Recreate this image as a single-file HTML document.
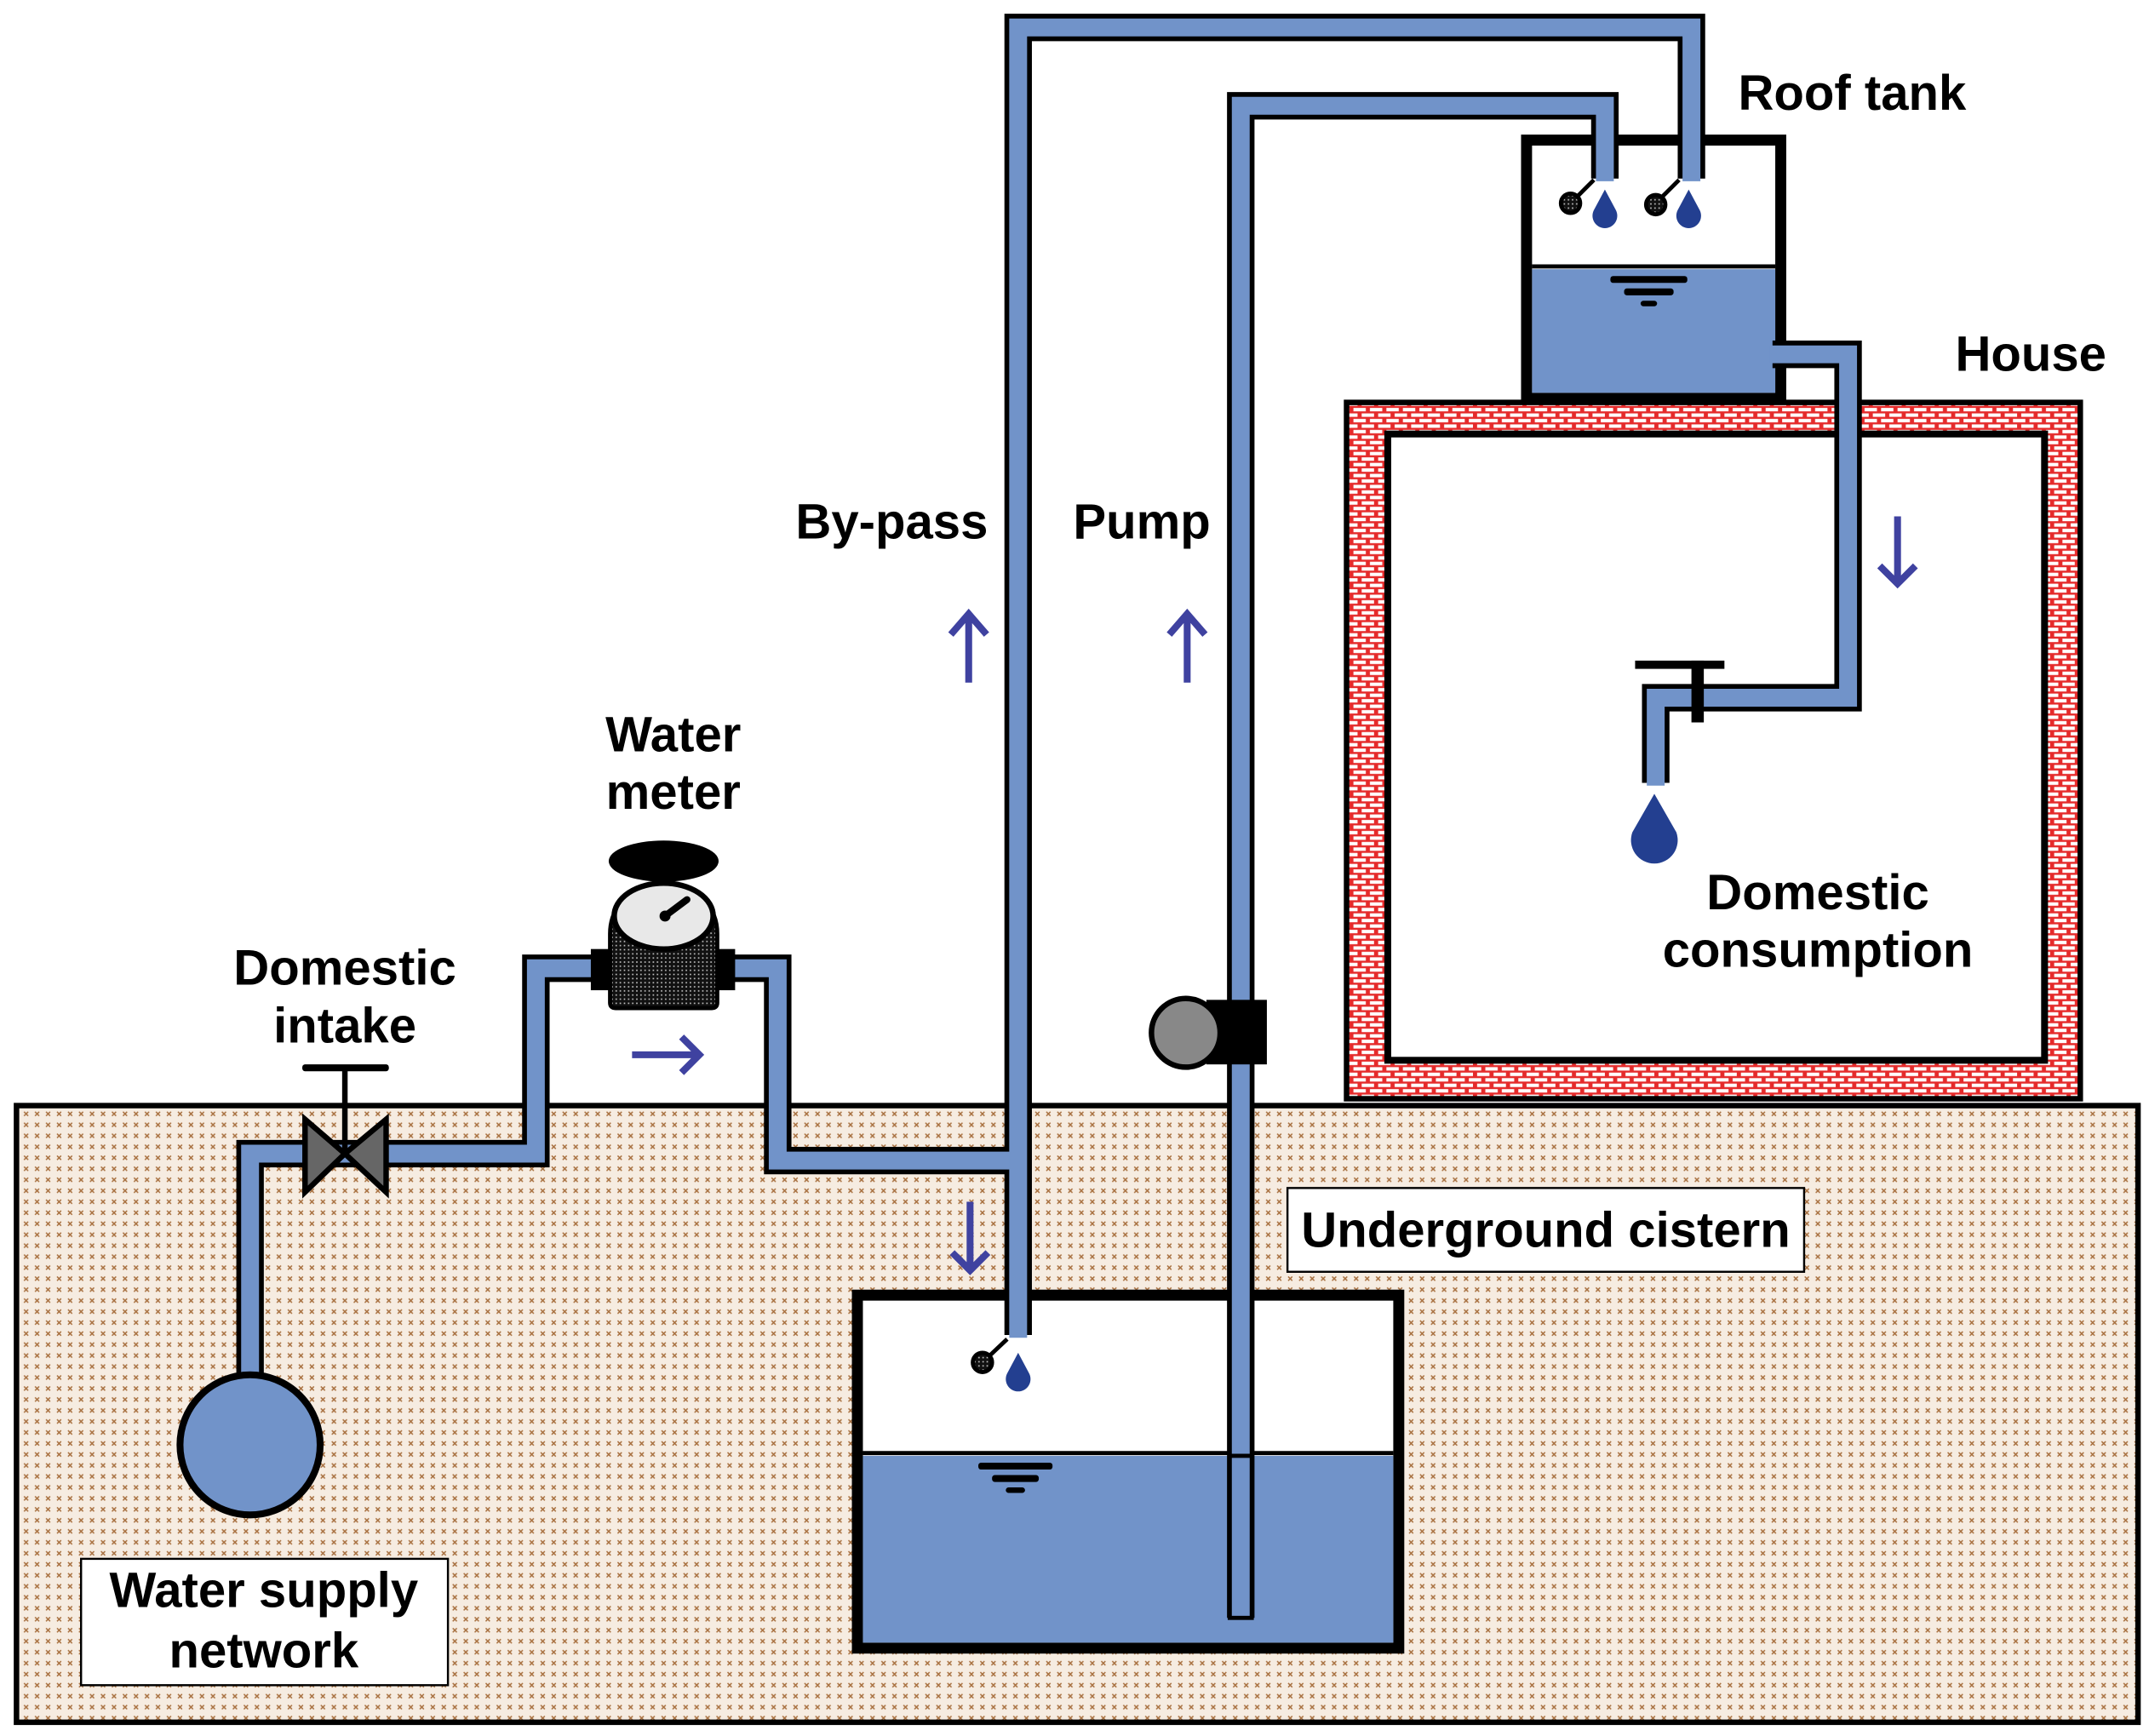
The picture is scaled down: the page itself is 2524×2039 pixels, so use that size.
<!DOCTYPE html>
<html><head><meta charset="utf-8"><style>
html,body{margin:0;padding:0;background:#fff}
svg{display:block}
text{font-family:"Liberation Sans",Arial,sans-serif;font-weight:bold;font-size:36px;fill:#000}
</style></head><body>
<svg width="2524" height="2039" viewBox="0 0 1564 1264" preserveAspectRatio="none" xmlns="http://www.w3.org/2000/svg">
<defs>
<pattern id="soil" width="8" height="8" patternUnits="userSpaceOnUse">
<rect width="8" height="8" fill="#f6ece1"/>
<path d="M1.5 1.5l3 3M4.5 1.5l-3 3" stroke="#a8703f" stroke-width="0.9"/>
</pattern>
<pattern id="brick" width="12" height="8" patternUnits="userSpaceOnUse">
<rect width="12" height="8" fill="#e52b2b"/>
<rect x="1" y="1" width="9" height="2.5" fill="#fff"/>
<rect x="7" y="5" width="9" height="2.5" fill="#fff"/>
<rect x="-5" y="5" width="9" height="2.5" fill="#fff"/>
</pattern>
<pattern id="dots" width="3" height="3" patternUnits="userSpaceOnUse">
<rect width="3" height="3" fill="#111"/><rect x="1" y="1" width="1" height="1" fill="#ccc"/>
</pattern>
</defs>

<rect x="12" y="805" width="1544" height="449" fill="url(#soil)" stroke="#000" stroke-width="4"/>

<rect x="980" y="293" width="534" height="507" fill="url(#brick)" stroke="#000" stroke-width="4"/>
<rect x="1010" y="316" width="478" height="456" fill="#fff" stroke="#000" stroke-width="5"/>

<rect x="624" y="943" width="394" height="257" fill="#fff" stroke="#000" stroke-width="8"/>
<rect x="628" y="1060" width="386" height="136" fill="#7193c9"/>
<line x1="628" y1="1058" x2="1014" y2="1058" stroke="#000" stroke-width="3"/>
<g fill="#000"><rect x="712" y="1065" width="54" height="5" rx="2"/><rect x="722" y="1074" width="34" height="5" rx="2"/><rect x="732" y="1083" width="14" height="4" rx="2"/></g>

<rect x="1111" y="102" width="185" height="188" fill="#fff" stroke="#000" stroke-width="8"/>
<rect x="1115" y="196" width="177" height="90" fill="#7193c9"/>
<line x1="1115" y1="194" x2="1292" y2="194" stroke="#000" stroke-width="3"/>
<g fill="#000"><rect x="1172" y="201" width="56" height="5" rx="2"/><rect x="1182" y="210" width="36" height="5" rx="2"/><rect x="1194" y="219" width="12" height="4" rx="2"/></g>

<g fill="none" stroke-linejoin="miter" stroke-linecap="butt">
<g stroke="#000" stroke-width="20">
<polyline points="182,1000 182,840 390,840 390,705 440,705"/>
<polyline points="530,705 566,705 566,845 741,845"/>
<polyline points="741,972 741,20 1231,20 1231,130"/>
<polyline points="903,1178 903,77 1168,77 1168,130"/>
<polyline points="1290,258 1345,258 1345,508 1205,508 1205,570"/>
</g>
<g stroke="#7193c9" stroke-width="13">
<polyline points="182,1003 182,840 390,840 390,705 440,705"/>
<polyline points="530,705 566,705 566,845 741,845"/>
<polyline points="741,974 741,20 1231,20 1231,132"/>
<polyline points="903,1176 903,77 1168,77 1168,132"/>
<polyline points="1288,258 1345,258 1345,508 1205,508 1205,572"/>
</g>
</g>
<rect x="895" y="1060" width="16" height="118" fill="#7193c9" stroke="#000" stroke-width="3"/>

<circle cx="182" cy="1052" r="51" fill="#7193c9" stroke="#000" stroke-width="5"/>

<line x1="251" y1="778" x2="251" y2="840" stroke="#000" stroke-width="4"/>
<rect x="220" y="775" width="63" height="5" rx="2" fill="#000"/>
<polygon points="222,815 251,840 222,868" fill="#666" stroke="#000" stroke-width="4"/>
<polygon points="281,815 251,840 281,868" fill="#666" stroke="#000" stroke-width="4"/>

<ellipse cx="483" cy="627" rx="40" ry="15" fill="#000"/>
<rect x="430" y="691" width="105" height="30" fill="#000"/>
<path d="M444 680 Q444 650 483 643 Q522 650 522 680 L522 730 Q522 734 518 734 L448 734 Q444 734 444 730 Z" fill="url(#dots)" stroke="#000" stroke-width="3"/>
<ellipse cx="483" cy="667" rx="36" ry="24" fill="#e8e8e8" stroke="#000" stroke-width="4"/>
<line x1="484" y1="667" x2="500" y2="655" stroke="#000" stroke-width="5" stroke-linecap="round"/>
<circle cx="484" cy="667" r="4" fill="#000"/>

<rect x="878" y="728" width="44" height="47" fill="#000"/>
<circle cx="863" cy="752" r="25" fill="#888" stroke="#000" stroke-width="4"/>

<g stroke="#000" stroke-width="3">
<line x1="1143" y1="148" x2="1160" y2="131"/><line x1="1205" y1="148" x2="1222" y2="131"/><line x1="715" y1="992" x2="733" y2="975"/>
</g>
<g fill="url(#dots)" stroke="#000" stroke-width="3">
<circle cx="1143" cy="148" r="7"/><circle cx="1205" cy="149" r="7"/><circle cx="715" cy="992" r="7"/>
</g>
<g fill="#233f90">
<path d="M1168 138 L1176 153 A9 9 0 1 1 1160 153 Z"/>
<path d="M1229 138 L1237 153 A9 9 0 1 1 1221 153 Z"/>
<path d="M741 985 L749 1000 A9 9 0 1 1 733 1000 Z"/>
<path d="M1204 578 L1220 606 A17 17 0 1 1 1188 606 Z"/>
</g>

<rect x="1190" y="481" width="65" height="6" fill="#000"/>
<rect x="1231" y="481" width="9" height="45" fill="#000"/>

<g stroke="#3f42a0" stroke-width="5" fill="none">
<path d="M705 497 V447 M692 462 L705 447 L718 462"/>
<path d="M864 497 V447 M851 462 L864 447 L877 462"/>
<path d="M1381 376 V425 M1368 412 L1381 425 L1394 412"/>
<path d="M706 875 V925 M693 912 L706 925 L719 912"/>
<path d="M460 768 H509 M496 755 L509 768 L496 781"/>
</g>

<text x="1265" y="80">Roof tank</text>
<text x="1423" y="270">House</text>
<text x="579" y="392">By-pass</text>
<text x="781" y="392">Pump</text>
<text x="490" y="547" text-anchor="middle">Water</text>
<text x="490" y="589" text-anchor="middle">meter</text>
<text x="251" y="717" text-anchor="middle">Domestic</text>
<text x="251" y="759" text-anchor="middle">intake</text>
<text x="1323" y="662" text-anchor="middle">Domestic</text>
<text x="1323" y="704" text-anchor="middle">consumption</text>
<rect x="937" y="865" width="376" height="61" fill="#fff" stroke="#000" stroke-width="1.5"/>
<text x="1125" y="908" text-anchor="middle">Underground cistern</text>
<rect x="59" y="1135" width="267" height="92" fill="#fff" stroke="#000" stroke-width="1.5"/>
<text x="192" y="1170" text-anchor="middle">Water supply</text>
<text x="192" y="1214" text-anchor="middle">network</text>
</svg>
</body></html>
